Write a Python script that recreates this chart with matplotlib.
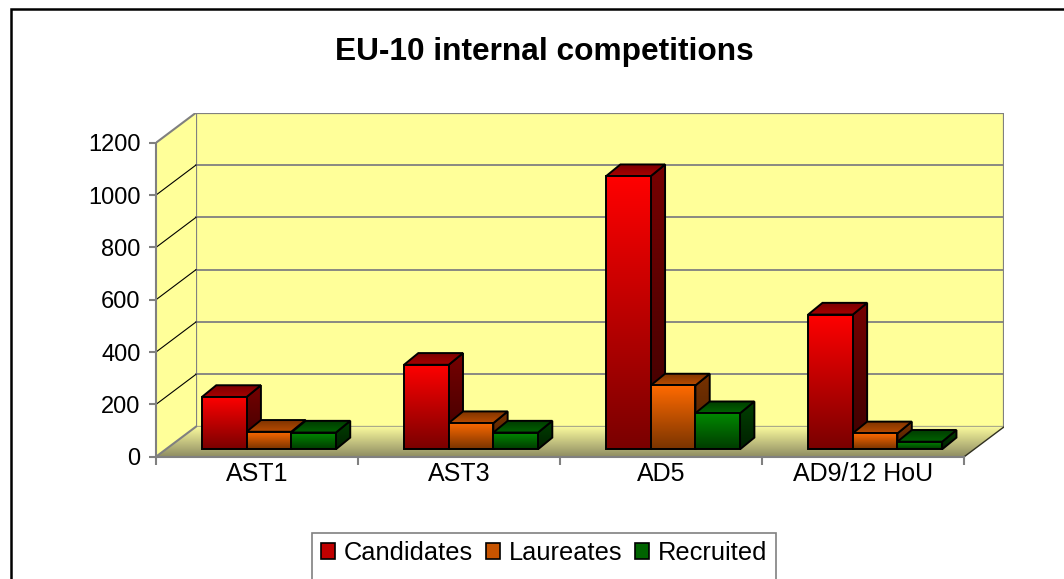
import numpy as np
import matplotlib
matplotlib.use("Agg")
import matplotlib.pyplot as plt
from matplotlib.patches import Polygon, Patch, Rectangle
from matplotlib.colors import to_rgb

plt.rcParams['font.family'] = ['Liberation Sans', 'DejaVu Sans']

# data
categories = ["AST1", "AST3", "AD5", "AD9/12 HoU"]
series = ["Candidates", "Laureates", "Recruited"]
candidates = [200, 323, 1044, 515]
laureates = [67, 100, 244, 61]
recruited = [64, 64, 138, 29]
yticks = [0, 200, 400, 600, 800, 1000, 1200]

values = [candidates, laureates, recruited]

# colours: (front top, front bottom, side top, side bottom, top face front, top face back)
colours = [
    ("#ff0000", "#7a0000", "#760000", "#3c0000", "#a80000", "#7a0000"),
    ("#ff6a00", "#7a3400", "#783200", "#4a1e00", "#b84c00", "#7e3300"),
    ("#008a00", "#003c00", "#004000", "#002000", "#006400", "#003c00"),
]
legend_colours = ["#c00000", "#c85400", "#006400"]

W, H = 1064, 579
fig = plt.figure(figsize=(W / 100, H / 100), dpi=100)

# depth of the 3d box in data units
DX = 0.198      # categories
DY = 114.9      # value units
YMAX = 1200

# axes placed so that the front plane spans x -0.5..3.5 and y 0..1200
left_px, right_px = 156, 1004.3
bottom_px, top_px = 456.7, 112.7
ax = fig.add_axes([left_px / W, 1 - bottom_px / H,
                   (right_px - left_px) / W, (bottom_px - top_px) / H])

grid_col = "#808080"
wall_col = "#ffff99"

zc = [10]


def next_z():
    zc[0] += 1
    return zc[0]


def grad_poly(verts, c_top, c_bot, z, edge="black", lw=1.4):
    poly = Polygon(verts, closed=True, facecolor="none", edgecolor=edge,
                   lw=lw, zorder=z + 0.5, joinstyle="miter")
    ax.add_patch(poly)
    xs = [v[0] for v in verts]
    ys = [v[1] for v in verts]
    t = np.linspace(0, 1, 64)
    ct, cb = np.array(to_rgb(c_top)), np.array(to_rgb(c_bot))
    cols = cb[None, :] * (1 - t[:, None]) + ct[None, :] * t[:, None]
    img = cols[:, None, :]
    im = ax.imshow(img, extent=[min(xs), max(xs), min(ys), max(ys)],
                   origin="lower", aspect="auto", zorder=z,
                   interpolation="bilinear")
    im.set_clip_path(poly)
    return poly


x0, x1 = -0.5, len(categories) - 0.5

# back wall
ax.add_patch(Rectangle((x0 + DX, DY), x1 - x0, YMAX, facecolor=wall_col,
                       edgecolor=grid_col, lw=1.6, zorder=1))
for v in yticks[1:-1]:
    ax.plot([x0 + DX, x1 + DX], [v + DY, v + DY], color=grid_col, lw=1.3, zorder=2)

# left wall
ax.add_patch(Polygon([(x0, 0), (x0, YMAX), (x0 + DX, YMAX + DY), (x0 + DX, DY)],
                     closed=True, facecolor=wall_col, edgecolor="none", zorder=1))
for v in yticks[1:-1]:
    ax.plot([x0, x0 + DX], [v, v + DY], color="black", lw=0.8, zorder=2)
ax.plot([x0, x0 + DX], [YMAX, YMAX + DY], color=grid_col, lw=1.5, zorder=2)

# floor
grad_poly([(x0, 0), (x1, 0), (x1 + DX, DY), (x0 + DX, DY)],
          "#fbfb9e", "#8e8c62", 3, edge="none", lw=0)
ax.plot([x0, x0 + DX], [0, DY], color=grid_col, lw=1.5, zorder=4)
ax.plot([x1, x1 + DX], [0, DY], color="#303020", lw=1.0, zorder=4)

# bars
f = 0.247                 # depth position of the bars' front face
bx, by = f * DX, f * DY
ddx, ddy = 0.0708, 44.7   # bar depth
w = 0.221                 # bar width
for i in range(len(categories)):
    gc = i + bx + 0.01
    for j, vals in enumerate(values):
        v = vals[i]
        xa = gc - 1.5 * w + j * w
        xb = xa + w
        ya, yb = by, by + v
        c = colours[j]
        # side face
        grad_poly([(xb, ya), (xb + ddx, ya + ddy), (xb + ddx, yb + ddy), (xb, yb)],
                  c[2], c[3], next_z())
        # top face
        grad_poly([(xa, yb), (xb, yb), (xb + ddx, yb + ddy), (xa + ddx, yb + ddy)],
                  c[5], c[4], next_z())
        # front face
        grad_poly([(xa, ya), (xb, ya), (xb, yb), (xa, yb)],
                  c[0], c[1], next_z())

ax.set_xlim(x0, x1 + DX)
ax.set_ylim(0, YMAX + DY)
ax.set_aspect("auto")
ax.patch.set_visible(False)

for s in ["top", "right"]:
    ax.spines[s].set_visible(False)
ax.spines["left"].set_bounds(0, YMAX)
ax.spines["bottom"].set_bounds(x0, x1)
for s in ["left", "bottom"]:
    ax.spines[s].set_color(grid_col)
    ax.spines[s].set_linewidth(1.5)
    ax.spines[s].set_zorder(5)

ax.set_yticks(yticks)
ax.set_yticklabels([str(v) for v in yticks])
ax.tick_params(axis="y", direction="out", length=5, width=1.5, color=grid_col,
               labelsize=17, pad=6)
ax.set_xticks(np.arange(len(categories) + 1) - 0.5)
ax.set_xticklabels([])
ax.set_xticks(np.arange(len(categories)), minor=True)
ax.set_xticklabels(categories, minor=True)
ax.tick_params(axis="x", which="major", direction="out", length=6, width=1.5,
               color=grid_col)
ax.tick_params(axis="x", which="minor", length=0, labelsize=18, pad=4)

fig.text(544 / W, 1 - 52 / H, "EU-10 internal competitions", ha="center",
         va="center", fontsize=22.8, fontweight="bold")

handles = [Patch(facecolor=legend_colours[k], edgecolor="black", lw=1.2)
           for k in range(len(series))]
leg = fig.legend(handles, series, loc="center",
                 bbox_to_anchor=(544 / W, 1 - 553 / H), ncol=3, frameon=False,
                 fontsize=18.3, handlelength=0.55, handleheight=0.55,
                 handletextpad=0.35, columnspacing=0.5, borderpad=0,
                 borderaxespad=0)

# legend box, cut by the bottom edge like in the original
fig.patches.append(Rectangle((311.7 / W, -0.05), (776 - 311.7) / W,
                             1.05 - 532.7 / H, transform=fig.transFigure,
                             fill=False, edgecolor=grid_col, lw=1.2))

# outer chart border (cut at the right and bottom edges)
fig.patches.append(Rectangle((10.5 / W, -0.2), 1.5, 1.2 - 9.2 / H,
                             transform=fig.transFigure, fill=False,
                             edgecolor="black", lw=1.8))

fig.savefig("out.png", dpi=100)
